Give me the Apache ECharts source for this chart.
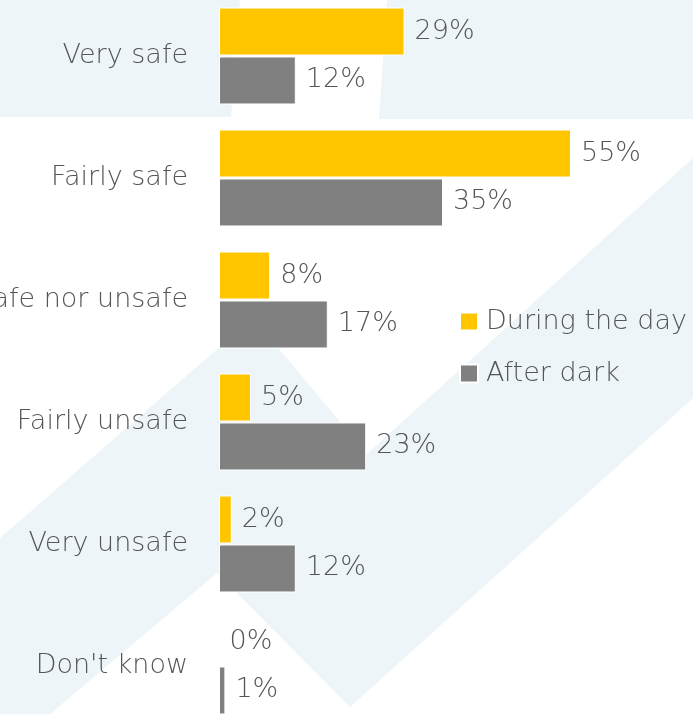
<!DOCTYPE html>
<html>
<head>
<meta charset="utf-8">
<script src="https://cdn.jsdelivr.net/npm/echarts@6/dist/echarts.min.js"></script>
<style>
  html, body { margin: 0; padding: 0; background: #ffffff; }
  #chart { width: 693px; height: 714px; }
</style>
</head>
<body>
<div id="chart"></div>
<script>
// Survey answers (share of respondents, %)
const categories = ['Very safe', 'Fairly safe', 'Neither safe nor unsafe', 'Fairly unsafe', 'Very unsafe', "Don't know"];
const duringTheDay = [29, 55, 8, 5, 2, 0];
const afterDark = [12, 35, 17, 23, 12, 1];
const seriesNames = ['During the day', 'After dark'];

// Decorative light-blue shapes behind the bars (pixel polygons)
const backdropShapes = [
  [[0, 0], [240, 0], [231, 117], [0, 117]],
  [[387, 0], [693, 0], [693, 119], [379, 119]],
  [[0, 538], [253, 318], [367, 454], [693, 158], [693, 398], [350, 707], [217, 573], [50, 714], [0, 714]]
];

const FONT = '"DejaVu Sans", sans-serif';
const WEIGHT = 200;
const SIZE = 27;
const TEXT = '#555555';

const chart = echarts.init(document.getElementById('chart'), null, { renderer: 'canvas' });

const labelStyle = {
  show: true,
  position: 'right',
  distance: 10,
  color: TEXT,
  fontFamily: FONT,
  fontWeight: WEIGHT,
  fontSize: SIZE,
  formatter: p => p.value + '%'
};

chart.setOption({
  backgroundColor: '#ffffff',
  animation: false,
  graphic: backdropShapes.map(pts => ({
    type: 'polygon',
    z: -10,
    silent: true,
    shape: { points: pts },
    style: { fill: '#edf5f9' }
  })),
  legend: {
    orient: 'vertical',
    left: 459,
    top: 308,
    padding: 0,
    itemWidth: 18,
    itemHeight: 18,
    itemGap: 25,
    icon: 'rect',
    textStyle: { color: TEXT, fontFamily: FONT, fontWeight: WEIGHT, fontSize: SIZE, padding: [0, 0, 0, 3] },
    data: seriesNames
  },
  grid: { left: 219, top: -5, width: 448, height: 732, containLabel: false, outerBoundsMode: 'none' },
  xAxis: {
    type: 'value',
    min: 0,
    max: 70,
    show: false
  },
  yAxis: {
    type: 'category',
    inverse: true,
    data: categories,
    axisLine: { show: false },
    axisTick: { show: false },
    axisLabel: { color: TEXT, fontFamily: FONT, fontWeight: WEIGHT, fontSize: SIZE, margin: 31 }
  },
  series: [
    {
      name: seriesNames[0],
      type: 'bar',
      data: duringTheDay,
      barWidth: 48,
      barGap: '2%',
      itemStyle: { color: '#ffc600', borderColor: '#ffffff', borderWidth: 1 },
      label: labelStyle
    },
    {
      name: seriesNames[1],
      type: 'bar',
      data: afterDark,
      barWidth: 48,
      barGap: '2%',
      itemStyle: { color: '#808080', borderColor: '#ffffff', borderWidth: 1 },
      label: labelStyle
    }
  ]
});
</script>
</body>
</html>
